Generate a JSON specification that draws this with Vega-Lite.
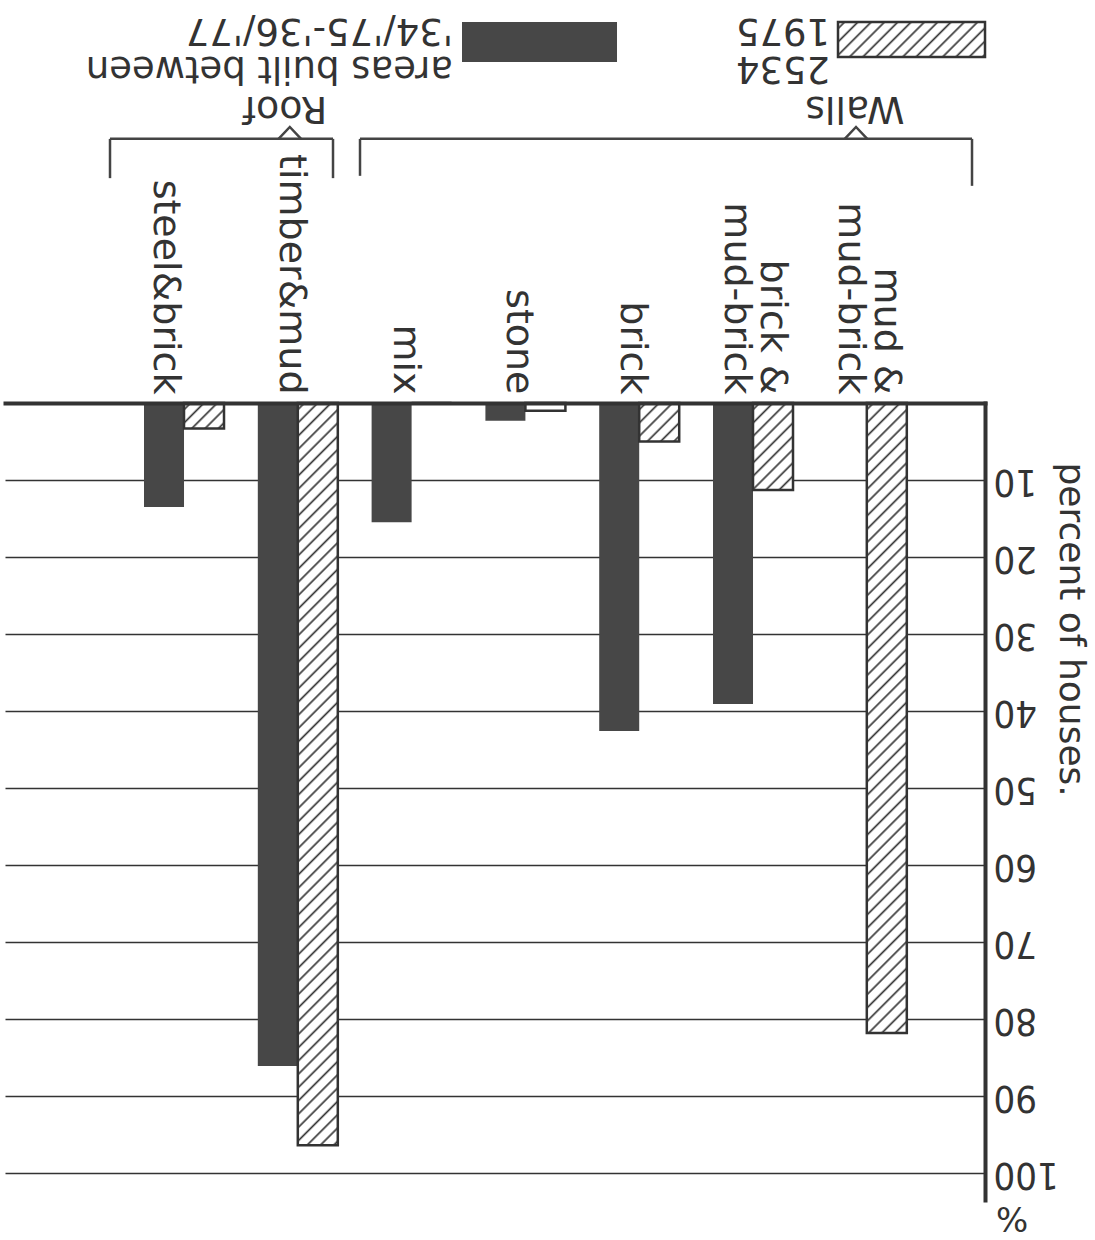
{
  "$schema": "https://vega.github.io/schema/vega-lite/v6.json",
  "width": 980,
  "height": 797,
  "autosize": {"type": "none"},
  "padding": {"left": 5, "top": 403, "right": 110, "bottom": 40},
  "background": "white",
  "config": {"view": {"stroke": null}, "font": "DejaVu Sans"},
  "params": [
    {"name": "hatch", "value": [
      {"offset":0.0055,"color":"#fff"},{"offset":0.0085,"color":"#333"},{"offset":0.0115,"color":"#fff"},
      {"offset":0.0225,"color":"#fff"},{"offset":0.0255,"color":"#333"},{"offset":0.0285,"color":"#fff"},
      {"offset":0.0395,"color":"#fff"},{"offset":0.0425,"color":"#333"},{"offset":0.0455,"color":"#fff"},
      {"offset":0.0565,"color":"#fff"},{"offset":0.0595,"color":"#333"},{"offset":0.0625,"color":"#fff"},
      {"offset":0.0735,"color":"#fff"},{"offset":0.0765,"color":"#333"},{"offset":0.0795,"color":"#fff"},
      {"offset":0.0905,"color":"#fff"},{"offset":0.0935,"color":"#333"},{"offset":0.0965,"color":"#fff"},
      {"offset":0.1075,"color":"#fff"},{"offset":0.1105,"color":"#333"},{"offset":0.1135,"color":"#fff"},
      {"offset":0.1245,"color":"#fff"},{"offset":0.1275,"color":"#333"},{"offset":0.1305,"color":"#fff"},
      {"offset":0.1415,"color":"#fff"},{"offset":0.1445,"color":"#333"},{"offset":0.1475,"color":"#fff"},
      {"offset":0.1585,"color":"#fff"},{"offset":0.1615,"color":"#333"},{"offset":0.1645,"color":"#fff"},
      {"offset":0.1755,"color":"#fff"},{"offset":0.1785,"color":"#333"},{"offset":0.1815,"color":"#fff"},
      {"offset":0.1925,"color":"#fff"},{"offset":0.1955,"color":"#333"},{"offset":0.1985,"color":"#fff"},
      {"offset":0.2095,"color":"#fff"},{"offset":0.2125,"color":"#333"},{"offset":0.2155,"color":"#fff"},
      {"offset":0.2265,"color":"#fff"},{"offset":0.2295,"color":"#333"},{"offset":0.2325,"color":"#fff"},
      {"offset":0.2435,"color":"#fff"},{"offset":0.2465,"color":"#333"},{"offset":0.2495,"color":"#fff"},
      {"offset":0.2605,"color":"#fff"},{"offset":0.2635,"color":"#333"},{"offset":0.2665,"color":"#fff"},
      {"offset":0.2775,"color":"#fff"},{"offset":0.2805,"color":"#333"},{"offset":0.2835,"color":"#fff"},
      {"offset":0.2945,"color":"#fff"},{"offset":0.2975,"color":"#333"},{"offset":0.3005,"color":"#fff"},
      {"offset":0.3115,"color":"#fff"},{"offset":0.3145,"color":"#333"},{"offset":0.3175,"color":"#fff"},
      {"offset":0.3285,"color":"#fff"},{"offset":0.3315,"color":"#333"},{"offset":0.3345,"color":"#fff"},
      {"offset":0.3455,"color":"#fff"},{"offset":0.3485,"color":"#333"},{"offset":0.3515,"color":"#fff"},
      {"offset":0.3625,"color":"#fff"},{"offset":0.3655,"color":"#333"},{"offset":0.3685,"color":"#fff"},
      {"offset":0.3795,"color":"#fff"},{"offset":0.3825,"color":"#333"},{"offset":0.3855,"color":"#fff"},
      {"offset":0.3965,"color":"#fff"},{"offset":0.3995,"color":"#333"},{"offset":0.4025,"color":"#fff"},
      {"offset":0.4135,"color":"#fff"},{"offset":0.4165,"color":"#333"},{"offset":0.4195,"color":"#fff"},
      {"offset":0.4305,"color":"#fff"},{"offset":0.4335,"color":"#333"},{"offset":0.4365,"color":"#fff"},
      {"offset":0.4475,"color":"#fff"},{"offset":0.4505,"color":"#333"},{"offset":0.4535,"color":"#fff"},
      {"offset":0.4645,"color":"#fff"},{"offset":0.4675,"color":"#333"},{"offset":0.4705,"color":"#fff"},
      {"offset":0.4815,"color":"#fff"},{"offset":0.4845,"color":"#333"},{"offset":0.4875,"color":"#fff"},
      {"offset":0.4985,"color":"#fff"},{"offset":0.5015,"color":"#333"},{"offset":0.5045,"color":"#fff"},
      {"offset":0.5155,"color":"#fff"},{"offset":0.5185,"color":"#333"},{"offset":0.5215,"color":"#fff"},
      {"offset":0.5325,"color":"#fff"},{"offset":0.5355,"color":"#333"},{"offset":0.5385,"color":"#fff"},
      {"offset":0.5495,"color":"#fff"},{"offset":0.5525,"color":"#333"},{"offset":0.5555,"color":"#fff"},
      {"offset":0.5665,"color":"#fff"},{"offset":0.5695,"color":"#333"},{"offset":0.5725,"color":"#fff"},
      {"offset":0.5835,"color":"#fff"},{"offset":0.5865,"color":"#333"},{"offset":0.5895,"color":"#fff"},
      {"offset":0.6005,"color":"#fff"},{"offset":0.6035,"color":"#333"},{"offset":0.6065,"color":"#fff"},
      {"offset":0.6175,"color":"#fff"},{"offset":0.6205,"color":"#333"},{"offset":0.6235,"color":"#fff"},
      {"offset":0.6345,"color":"#fff"},{"offset":0.6375,"color":"#333"},{"offset":0.6405,"color":"#fff"},
      {"offset":0.6515,"color":"#fff"},{"offset":0.6545,"color":"#333"},{"offset":0.6575,"color":"#fff"},
      {"offset":0.6685,"color":"#fff"},{"offset":0.6715,"color":"#333"},{"offset":0.6745,"color":"#fff"},
      {"offset":0.6855,"color":"#fff"},{"offset":0.6885,"color":"#333"},{"offset":0.6915,"color":"#fff"},
      {"offset":0.7025,"color":"#fff"},{"offset":0.7055,"color":"#333"},{"offset":0.7085,"color":"#fff"},
      {"offset":0.7195,"color":"#fff"},{"offset":0.7225,"color":"#333"},{"offset":0.7255,"color":"#fff"},
      {"offset":0.7365,"color":"#fff"},{"offset":0.7395,"color":"#333"},{"offset":0.7425,"color":"#fff"},
      {"offset":0.7535,"color":"#fff"},{"offset":0.7565,"color":"#333"},{"offset":0.7595,"color":"#fff"},
      {"offset":0.7705,"color":"#fff"},{"offset":0.7735,"color":"#333"},{"offset":0.7765,"color":"#fff"},
      {"offset":0.7875,"color":"#fff"},{"offset":0.7905,"color":"#333"},{"offset":0.7935,"color":"#fff"},
      {"offset":0.8045,"color":"#fff"},{"offset":0.8075,"color":"#333"},{"offset":0.8105,"color":"#fff"},
      {"offset":0.8215,"color":"#fff"},{"offset":0.8245,"color":"#333"},{"offset":0.8275,"color":"#fff"},
      {"offset":0.8385,"color":"#fff"},{"offset":0.8415,"color":"#333"},{"offset":0.8445,"color":"#fff"},
      {"offset":0.8555,"color":"#fff"},{"offset":0.8585,"color":"#333"},{"offset":0.8615,"color":"#fff"},
      {"offset":0.8725,"color":"#fff"},{"offset":0.8755,"color":"#333"},{"offset":0.8785,"color":"#fff"},
      {"offset":0.8895,"color":"#fff"},{"offset":0.8925,"color":"#333"},{"offset":0.8955,"color":"#fff"},
      {"offset":0.9065,"color":"#fff"},{"offset":0.9095,"color":"#333"},{"offset":0.9125,"color":"#fff"},
      {"offset":0.9235,"color":"#fff"},{"offset":0.9265,"color":"#333"},{"offset":0.9295,"color":"#fff"},
      {"offset":0.9405,"color":"#fff"},{"offset":0.9435,"color":"#333"},{"offset":0.9465,"color":"#fff"},
      {"offset":0.9575,"color":"#fff"},{"offset":0.9605,"color":"#333"},{"offset":0.9635,"color":"#fff"},
      {"offset":0.9745,"color":"#fff"},{"offset":0.9775,"color":"#333"},{"offset":0.9805,"color":"#fff"},
      {"offset":0.9915,"color":"#fff"},{"offset":0.9945,"color":"#333"},{"offset":0.9975,"color":"#fff"}
    ]}
  ],
  "data": {"values": [{"note": "annotation"}]},
  "layer": [
    {
      "data": {"values": [
        {"cat": "steel&brick", "series": "built", "pct": 13.5},
        {"cat": "steel&brick", "series": "1975", "pct": 3.3},
        {"cat": "timber&mud", "series": "built", "pct": 86.1},
        {"cat": "timber&mud", "series": "1975", "pct": 96.4},
        {"cat": "mix", "series": "built", "pct": 15.5},
        {"cat": "mix", "series": "1975", "pct": 0},
        {"cat": "stone", "series": "built", "pct": 2.3},
        {"cat": "stone", "series": "1975", "pct": 1.0},
        {"cat": "brick", "series": "built", "pct": 42.6},
        {"cat": "brick", "series": "1975", "pct": 5.0},
        {"cat": "brick & mud-brick", "series": "built", "pct": 39.1},
        {"cat": "brick & mud-brick", "series": "1975", "pct": 11.3},
        {"cat": "mud & mud-brick", "series": "built", "pct": 0},
        {"cat": "mud & mud-brick", "series": "1975", "pct": 81.8}
      ]},
      "mark": {"type": "bar", "strokeWidth": 2.5},
      "encoding": {
        "x": {
          "field": "cat", "type": "nominal",
          "scale": {"domain": ["steel&brick", "timber&mud", "mix", "stone", "brick", "brick & mud-brick", "mud & mud-brick"], "paddingInner": 0.297, "paddingOuter": 0.9543, "align": 0.64},
          "axis": {
            "orient": "top", "title": null, "ticks": false, "grid": false,
            "domainColor": "#333", "domainWidth": 4, "domainCap": "square",
            "labelAngle": 90, "labelAlign": "right", "labelBaseline": "middle", "labelPadding": 9,
            "labelFontSize": 38, "labelColor": "#333", "labelLineHeight": 36,
            "labelOffset": {"condition": [
              {"test": "datum.value === 'steel&brick'", "value": -19},
              {"test": "indexof(datum.value, 'mud-brick') >= 0", "value": 19}
            ], "value": -7},
            "labelOverlap": false, "labelBound": false, "labelFlush": false, "labelLimit": 500,
            "labelExpr": "datum.value === 'brick & mud-brick' ? ['brick &', 'mud-brick'] : datum.value === 'mud & mud-brick' ? ['mud &', 'mud-brick'] : datum.value",
            "zindex": 1
          }
        },
        "xOffset": {"field": "series", "type": "nominal", "scale": {"domain": ["built", "1975"], "paddingInner": 0, "paddingOuter": 0}},
        "y": {
          "field": "pct", "type": "quantitative",
          "scale": {"domain": [0, 103.5], "reverse": true, "nice": false},
          "axis": {
            "orient": "right", "values": [10, 20, 30, 40, 50, 60, 70, 80, 90, 100],
            "title": "percent of houses.", "ticks": false,
            "domainColor": "#333", "domainWidth": 4, "domainCap": "square",
            "grid": true, "gridColor": "#333", "gridWidth": 1.5,
            "labelAngle": 180, "labelAlign": "right", "labelBaseline": "middle", "labelPadding": 8,
            "labelFont": "Liberation Sans Narrow, DejaVu Sans Condensed, sans-serif",
            "labelFontSize": 38, "labelColor": "#333", "labelOverlap": false, "labelBound": false, "labelFlush": false,
            "titleAngle": 90, "titleAlign": "left", "titleBaseline": "bottom", "titleX": 66, "titleY": 59,
            "titleFontSize": 36, "titleFontWeight": "normal", "titleColor": "#333",
            "zindex": 0
          }
        },
        "fill": {
          "condition": [
            {"test": "datum.series === '1975' && datum.cat === 'timber&mud'", "value": {"expr": "{gradient: 'linear', x1: 0, y1: 0, x2: 0.05663, y2: 1.0509, stops: hatch}"}},
            {"test": "datum.series === '1975' && datum.cat === 'mud & mud-brick'", "value": {"expr": "{gradient: 'linear', x1: 0, y1: 0, x2: 0.07855, y2: 1.2370, stops: hatch}"}},
            {"test": "datum.series === '1975' && datum.cat === 'brick & mud-brick'", "value": {"expr": "{gradient: 'linear', x1: 0, y1: 0, x2: 3.4128, y2: 7.4228, stops: hatch}"}},
            {"test": "datum.series === '1975' && datum.cat === 'brick'", "value": {"expr": "{gradient: 'linear', x1: 0, y1: 0, x2: 10.152, y2: 9.7716, stops: hatch}"}},
            {"test": "datum.series === '1975' && datum.cat === 'steel&brick'", "value": {"expr": "{gradient: 'linear', x1: 0, y1: 0, x2: 13.937, y2: 8.850, stops: hatch}"}},
            {"test": "datum.series === '1975'", "value": "#ffffff"}
          ],
          "value": "#474747"
        },
        "stroke": {"condition": {"test": "datum.series === '1975'", "value": "#333"}, "value": null}
      }
    },
    {
      "mark": {"type": "rule", "stroke": "#444", "strokeWidth": 2.5},
      "encoding": {
        "x": {"datum": "steel&brick", "type": "nominal", "bandPosition": -0.425},
        "x2": {"datum": "timber&mud", "bandPosition": 0.94},
        "y": {"datum": -34.3, "type": "quantitative"}
      }
    },
    {
      "mark": {"type": "rule", "stroke": "#444", "strokeWidth": 2.5},
      "encoding": {
        "x": {"datum": "steel&brick", "type": "nominal", "bandPosition": -0.425},
        "y": {"datum": -34.3, "type": "quantitative"},
        "y2": {"datum": -29.2}
      }
    },
    {
      "mark": {"type": "rule", "stroke": "#444", "strokeWidth": 2.5},
      "encoding": {
        "x": {"datum": "timber&mud", "type": "nominal", "bandPosition": 0.94},
        "y": {"datum": -34.3, "type": "quantitative"},
        "y2": {"datum": -29.2}
      }
    },
    {
      "mark": {"type": "rule", "stroke": "#444", "strokeWidth": 2.5},
      "encoding": {
        "x": {"datum": "mix", "type": "nominal", "bandPosition": -0.145},
        "x2": {"datum": "mud & mud-brick", "bandPosition": 1.815},
        "y": {"datum": -34.3, "type": "quantitative"}
      }
    },
    {
      "mark": {"type": "rule", "stroke": "#444", "strokeWidth": 2.5},
      "encoding": {
        "x": {"datum": "mix", "type": "nominal", "bandPosition": -0.145},
        "y": {"datum": -34.3, "type": "quantitative"},
        "y2": {"datum": -29.5}
      }
    },
    {
      "mark": {"type": "rule", "stroke": "#444", "strokeWidth": 2.5},
      "encoding": {
        "x": {"datum": "mud & mud-brick", "type": "nominal", "bandPosition": 1.815},
        "y": {"datum": -34.3, "type": "quantitative"},
        "y2": {"datum": -28.2}
      }
    },
    {
      "mark": {"type": "point", "shape": "M-1,0.55L0,-0.5L1,0.55", "size": 529, "filled": false, "stroke": "#444", "strokeWidth": 2.5, "opacity": 1},
      "encoding": {
        "x": {"datum": "timber&mud", "type": "nominal", "bandPosition": 0.40},
        "y": {"datum": -35.1, "type": "quantitative"}
      }
    },
    {
      "mark": {"type": "point", "shape": "M-1,0.55L0,-0.5L1,0.55", "size": 529, "filled": false, "stroke": "#444", "strokeWidth": 2.5, "opacity": 1},
      "encoding": {
        "x": {"datum": "mud & mud-brick", "type": "nominal", "bandPosition": 0.365},
        "y": {"datum": -35.1, "type": "quantitative"}
      }
    },
    {
      "mark": {"type": "text", "angle": 180, "align": "center", "baseline": "middle", "fontSize": 38, "fill": "#333"},
      "encoding": {
        "x": {"datum": "timber&mud", "type": "nominal", "bandPosition": 0.34},
        "y": {"datum": -38.3, "type": "quantitative"},
        "text": {"value": "Roof"}
      }
    },
    {
      "mark": {"type": "text", "angle": 180, "align": "center", "baseline": "middle", "fontSize": 38, "fill": "#333"},
      "encoding": {
        "x": {"datum": "mud & mud-brick", "type": "nominal", "bandPosition": 0.35},
        "y": {"datum": -38.3, "type": "quantitative"},
        "text": {"value": "Walls"}
      }
    },
    {
      "mark": {"type": "rect", "fill": "#474747"},
      "encoding": {
        "x": {"datum": "stone", "type": "nominal", "bandPosition": -0.2925},
        "x2": {"datum": "stone", "bandPosition": 1.645},
        "y": {"datum": -49.48, "type": "quantitative"},
        "y2": {"datum": -44.29}
      }
    },
    {
      "mark": {"type": "rect", "stroke": "#333", "strokeWidth": 2.5, "fill": {"expr": "{gradient: 'linear', x1: 0, y1: 0, x2: 5.0363, y2: 1.1991, stops: hatch}"}},
      "encoding": {
        "x": {"datum": "mud & mud-brick", "type": "nominal", "bandPosition": 0.14},
        "x2": {"datum": "mud & mud-brick", "bandPosition": 1.9775},
        "y": {"datum": -49.48, "type": "quantitative"},
        "y2": {"datum": -44.94}
      }
    },
    {
      "mark": {"type": "text", "angle": 180, "align": "left", "baseline": "middle", "fontSize": 37, "lineHeight": 38, "fill": "#333"},
      "encoding": {
        "x": {"datum": "stone", "type": "nominal", "bandPosition": -0.405},
        "y": {"datum": -43.5, "type": "quantitative"},
        "text": {"value": ["areas built between", "'34/'75-'36/'77"]}
      }
    },
    {
      "mark": {"type": "text", "angle": 180, "align": "left", "baseline": "middle", "fontSize": 37, "lineHeight": 38, "fill": "#333"},
      "encoding": {
        "x": {"datum": "mud & mud-brick", "type": "nominal", "bandPosition": 0.04},
        "y": {"datum": -43.5, "type": "quantitative"},
        "text": {"value": ["2534", "1975"]}
      }
    },
    {
      "mark": {"type": "text", "angle": 180, "align": "center", "baseline": "middle", "fontSize": 34, "fill": "#333"},
      "encoding": {
        "x": {"datum": "mud & mud-brick", "type": "nominal", "bandPosition": 2.315},
        "y": {"datum": 105.7, "type": "quantitative"},
        "text": {"value": "%"}
      }
    }
  ]
}
